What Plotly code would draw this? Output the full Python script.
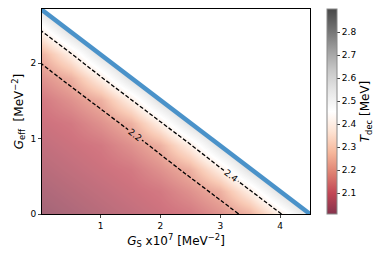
import plotly.graph_objects as go

# ---- data ----
G_S = [0.0, 0.5, 1.0, 1.5, 2.0, 2.5, 3.0, 3.5, 4.0, 4.5]            # x10^7 MeV^-2
G_eff = [0.0, 0.30, 0.60, 0.91, 1.21, 1.51, 1.81, 2.12, 2.42, 2.72]  # MeV^-2
# T_dec along the diagonal index (i + j) of the grid; beyond 9 is outside the allowed region
T_diag = [2.01, 2.03, 2.05, 2.07, 2.09, 2.11, 2.16, 2.225, 2.39, 2.60,
          2.75, 2.85, 2.90, 2.90, 2.90, 2.90, 2.90, 2.90, 2.90]
bound_GS = [0.0, 4.5]
bound_Geff = [2.72, 0.0]
contour_levels = [2.2, 2.4]
cbar_ticks = [2.1, 2.2, 2.3, 2.4, 2.5, 2.6, 2.7, 2.8]
T_min, T_max = 2.01, 2.9
x_range = [0.02, 4.5]
y_range = [0.0, 2.72]

z = [[T_diag[i + j] for i in range(len(G_S))] for j in range(len(G_eff))]

# RdGy colour scale (red low, grey high), faded toward white
rdgy = ["#67001f", "#b2182b", "#d6604d", "#f4a582", "#fddbc7", "#ffffff",
        "#e0e0e0", "#bababa", "#878787", "#4d4d4d", "#1a1a1a"]
def fade(h, a=0.8):
    r, g, b = int(h[1:3], 16), int(h[3:5], 16), int(h[5:7], 16)
    f = lambda c: int(round(a * c + (1 - a) * 255))
    return f"rgb({f(r)},{f(g)},{f(b)})"
cscale = [[k / (len(rdgy) - 1), fade(c)] for k, c in enumerate(rdgy)]

fig = go.Figure()
fig.add_trace(go.Heatmap(
    x=G_S, y=G_eff, z=z, zsmooth="best", zmin=T_min, zmax=T_max,
    colorscale=cscale, opacity=0.75,
    colorbar=dict(
        x=1.063, xanchor="left", y=0.5, yanchor="middle", len=1.0, ypad=0, xpad=0,
        thickness=10, outlinewidth=1, outlinecolor="#888",
        tickvals=cbar_ticks, ticks="outside", ticklen=3,
        tickfont=dict(size=9, family="DejaVu Sans", color="black"),
        title=dict(text="<i>T</i><sub>dec</sub> [MeV]", side="right",
                   font=dict(size=12, family="DejaVu Sans", color="black")),
    ),
    hoverinfo="skip",
))
fig.add_trace(go.Contour(
    x=G_S, y=G_eff, z=z, showscale=False,
    contours=dict(coloring="none", start=contour_levels[0], end=contour_levels[-1],
                  size=contour_levels[1] - contour_levels[0], showlabels=True,
                  labelfont=dict(size=9, family="DejaVu Sans", color="black")),
    line=dict(color="black", width=1.3, dash="4px,2px"),
    hoverinfo="skip",
))
# white mask above the boundary
fig.add_trace(go.Scatter(
    x=bound_GS + [x_range[1] + 0.5, x_range[1] + 0.5, bound_GS[0]],
    y=bound_Geff + [bound_Geff[1], y_range[1] + 0.5, y_range[1] + 0.5],
    fill="toself", fillcolor="white", mode="none", showlegend=False, hoverinfo="skip",
))
fig.add_trace(go.Scatter(
    x=bound_GS, y=bound_Geff, mode="lines",
    line=dict(color="#4a92c9", width=4.5), showlegend=False, hoverinfo="skip",
))

axis_common = dict(showgrid=False, zeroline=False, showline=True, linecolor="black",
                   linewidth=1, mirror=True, ticks="outside", ticklen=3,
                   tickfont=dict(size=9, family="DejaVu Sans", color="black"))
fig.update_layout(
    width=390, height=260, margin=dict(l=42, r=80, t=9, b=46),
    paper_bgcolor="white", plot_bgcolor="white", showlegend=False,
    xaxis=dict(range=x_range, tickvals=[1, 2, 3, 4], **axis_common,
               title=dict(text="<i>G</i><sub>S</sub> x10<sup>7</sup> [MeV<sup>−2</sup>]",
                          font=dict(size=12, family="DejaVu Sans", color="black"), standoff=6)),
    yaxis=dict(range=y_range, tickvals=[0, 1, 2], **axis_common,
               title=dict(text="<i>G</i><sub>eff</sub>  [MeV<sup>−2</sup>]",
                          font=dict(size=12, family="DejaVu Sans", color="black"), standoff=4)),
)
fig.write_html("out.html", config={"displayModeBar": False},
               post_script="document.body.style.margin='0';")
